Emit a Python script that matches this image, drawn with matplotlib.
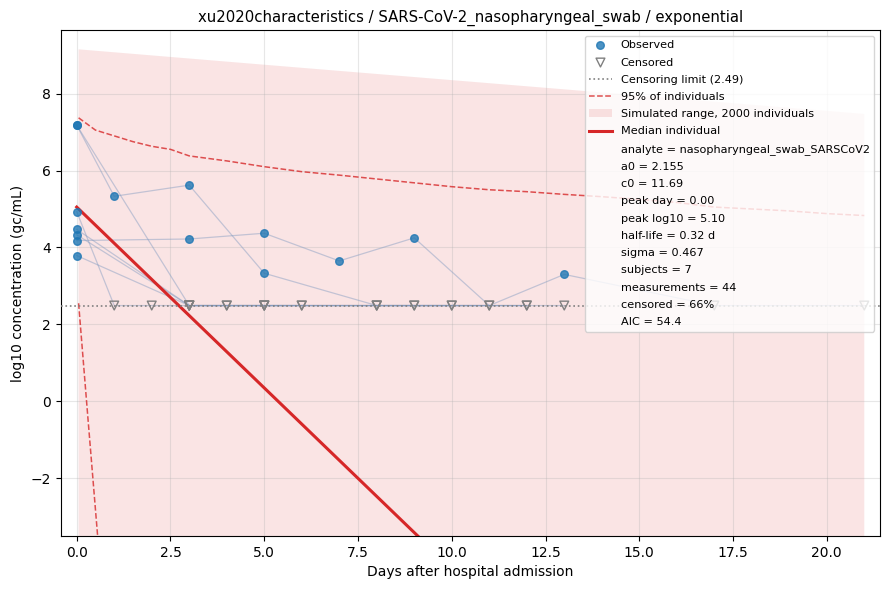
import matplotlib
matplotlib.use("Agg")
import matplotlib.pyplot as plt
from matplotlib.lines import Line2D
import numpy as np

# per-subject measurements (day, log10 value); None = below censoring limit
censor_limit = 2.49
subjects = {
    "S1": ([0, 1, 3, 5, 8, 10, 12], [7.18, 5.33, 5.62, 3.33, None, None, None]),
    "S2": ([0, 3, 4, 6, 9, 11], [7.18, None, None, None, None, None]),
    "S3": ([0, 1, 2, 3, 4, 5, 6], [4.93, None, None, None, None, None, None]),
    "S4": ([0, 3, 5, 7, 9, 11, 13, 17, 21], [4.18, 4.22, 4.37, 3.65, 4.25, None, 3.30, None, None]),
    "S5": ([0, 3, 5, 8, 10], [4.47, None, None, None, None]),
    "S6": ([0, 3, 5, 8, 12], [4.33, None, None, None, None]),
    "S7": ([0, 3, 5, 9, 13], [3.79, None, None, None, None]),
}

# simulated band (2000 individuals)
band_days = [0.05, 5, 10, 15, 21]
band_upper = [9.15, 8.75, 8.35, 7.95, 7.47]
band_lower = [-20, -20, -20, -20, -20]

# 95% of individuals
q_hi_days = [0.05, 0.5, 1, 1.5, 2, 2.5, 3, 4, 5, 6, 7, 8, 9, 10, 11, 12, 13, 14,
             15, 16, 17, 18, 19, 20, 21]
q_hi_vals = [7.37, 7.05, 6.9, 6.75, 6.63, 6.55, 6.38, 6.25, 6.1, 5.97, 5.88, 5.78,
             5.68, 5.58, 5.5, 5.45, 5.38, 5.32, 5.25, 5.17, 5.05, 5.0, 4.95, 4.88, 4.83]
q_lo_days = [0.05, 0.3, 0.6]
q_lo_vals = [2.55, -0.45, -4.0]

# median individual
median_days = [0, 21]
median_vals = [5.05, -14.69]

fit_info = [
    "analyte = nasopharyngeal_swab_SARSCoV2",
    "a0 = 2.155",
    "c0 = 11.69",
    "peak day = 0.00",
    "peak log10 = 5.10",
    "half-life = 0.32 d",
    "sigma = 0.467",
    "subjects = 7",
    "measurements = 44",
    "censored = 66%",
    "AIC = 54.4",
]

fig, ax = plt.subplots(figsize=(8.9, 5.9), dpi=100)
fig.subplots_adjust(left=0.0685, right=0.9888, top=0.949, bottom=0.0915)

ax.fill_between(band_days, band_lower, band_upper, color="C3", alpha=0.12,
                linewidth=0, label="Simulated range, 2000 individuals")

obs_x, obs_y, cen_x = [], [], []
for name, (days, vals) in subjects.items():
    yy = [censor_limit if v is None else v for v in vals]
    ax.plot(days, yy, color="#7f99c0", alpha=0.45, lw=0.9, zorder=2)
    for d, v in zip(days, vals):
        if v is None:
            cen_x.append(d)
        else:
            obs_x.append(d)
            obs_y.append(v)

ax.scatter(obs_x, obs_y, s=30, color="C0", alpha=0.8, zorder=4, label="Observed")
ax.scatter(cen_x, [censor_limit] * len(cen_x), s=40, marker="v", facecolor="none",
           edgecolor="gray", zorder=4, label="Censored")
ax.axhline(censor_limit, color="gray", ls=":", lw=1.2, zorder=3,
           label="Censoring limit (2.49)")
ax.plot(q_hi_days, q_hi_vals, color="C3", ls="--", lw=1.1, alpha=0.8,
        label="95% of individuals")
ax.plot(q_lo_days, q_lo_vals, color="C3", ls="--", lw=1.1, alpha=0.8)
ax.plot(median_days, median_vals, color="C3", lw=2.2, label="Median individual")

ax.set_xlim(-0.42, 21.42)
ax.set_ylim(-3.5, 9.65)
ax.grid(alpha=0.3)
ax.set_xlabel("Days after hospital admission")
ax.set_ylabel("log10 concentration (gc/mL)")
ax.set_title("xu2020characteristics / SARS-CoV-2_nasopharyngeal_swab / exponential",
             fontsize=10.75)

handles, labels = ax.get_legend_handles_labels()
order = ["Observed", "Censored", "Censoring limit (2.49)", "95% of individuals",
         "Simulated range, 2000 individuals", "Median individual"]
hmap = dict(zip(labels, handles))
h = [hmap[k] for k in order]
l = list(order)
for txt in fit_info:
    h.append(Line2D([], [], color="none"))
    l.append(txt)
ax.legend(h, l, loc="upper right", fontsize=8.15, labelspacing=0.64)

fig.savefig("out.png")
